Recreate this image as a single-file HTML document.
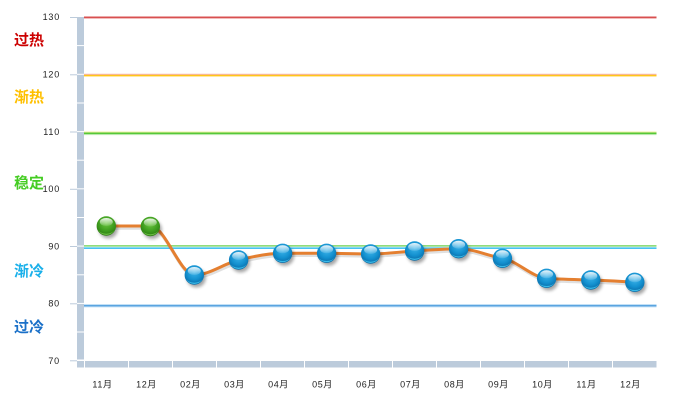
<!DOCTYPE html>
<html><head><meta charset="utf-8"><style>
html,body{margin:0;padding:0;background:#fff;}
svg{display:block;}
.yl{font-family:"Liberation Sans",sans-serif;font-size:9px;fill:#222;text-anchor:end;letter-spacing:0.8px;}
.xl{font-family:"Liberation Sans","Noto Sans CJK SC",sans-serif;font-size:9px;fill:#222;text-anchor:middle;letter-spacing:0.6px;}
.cl{font-family:"Liberation Sans","Noto Sans CJK SC",sans-serif;font-size:15px;font-weight:bold;}
</style></head><body>
<svg width="682" height="409" viewBox="0 0 682 409" xmlns="http://www.w3.org/2000/svg">
<defs>
  <radialGradient id="gb" cx="0.5" cy="0.35" r="0.65">
    <stop offset="0" stop-color="#3cb4ea"/>
    <stop offset="0.6" stop-color="#1390cf"/>
    <stop offset="1" stop-color="#0a6aa5"/>
  </radialGradient>
  <radialGradient id="gg" cx="0.5" cy="0.35" r="0.65">
    <stop offset="0" stop-color="#6cc840"/>
    <stop offset="0.6" stop-color="#3f9e1f"/>
    <stop offset="1" stop-color="#2a7a10"/>
  </radialGradient>
  <linearGradient id="hl" x1="0" y1="0" x2="0" y2="1">
    <stop offset="0" stop-color="#fff" stop-opacity="0.9"/>
    <stop offset="1" stop-color="#fff" stop-opacity="0.1"/>
  </linearGradient>
  <filter id="sh" x="-50%" y="-50%" width="200%" height="200%">
    <feGaussianBlur stdDeviation="1.5"/>
  </filter>
  <g id="mb">
    <circle cx="2" cy="3" r="9.5" fill="#000" opacity="0.35" filter="url(#sh)"/>
    <circle r="9.7" fill="url(#gb)"/>
    <path d="M-8.6,3.5 A9.5,9.5 0 0 0 8.6,3.5 A9,6 0 0 1 -8.6,3.5Z" fill="#4fd8ff" opacity="0.7"/>
    <ellipse cx="0" cy="-4" rx="6.5" ry="4" fill="url(#hl)"/>
  </g>
  <g id="mg">
    <circle cx="2" cy="3" r="9.5" fill="#000" opacity="0.35" filter="url(#sh)"/>
    <circle r="9.7" fill="url(#gg)"/>
    <path d="M-8.6,3.5 A9.5,9.5 0 0 0 8.6,3.5 A9,6 0 0 1 -8.6,3.5Z" fill="#8fe060" opacity="0.6"/>
    <ellipse cx="0" cy="-4" rx="6.5" ry="4" fill="url(#hl)"/>
  </g>
</defs>

<rect x="77" y="17" width="7" height="342.5" fill="#bccbdb"/>
<g stroke="#fff" stroke-width="1">
  <line x1="77" x2="84" y1="45.6" y2="45.6"/>
  <line x1="77" x2="84" y1="74.3" y2="74.3"/>
  <line x1="77" x2="84" y1="103" y2="103"/>
  <line x1="77" x2="84" y1="131.6" y2="131.6"/>
  <line x1="77" x2="84" y1="160.2" y2="160.2"/>
  <line x1="77" x2="84" y1="188.8" y2="188.8"/>
  <line x1="77" x2="84" y1="217.5" y2="217.5"/>
  <line x1="77" x2="84" y1="246.1" y2="246.1"/>
  <line x1="77" x2="84" y1="274.8" y2="274.8"/>
  <line x1="77" x2="84" y1="303.4" y2="303.4"/>
  <line x1="77" x2="84" y1="332" y2="332"/>
</g>
<rect x="77" y="361" width="7" height="6.5" fill="#bccbdb"/>
<g stroke="#bccbdb" stroke-width="1">
  <line x1="70" x2="77" y1="17.5" y2="17.5"/>
  <line x1="70" x2="77" y1="74.8" y2="74.8"/>
  <line x1="70" x2="77" y1="132" y2="132"/>
  <line x1="70" x2="77" y1="189.3" y2="189.3"/>
  <line x1="70" x2="77" y1="246.5" y2="246.5"/>
  <line x1="70" x2="77" y1="303.8" y2="303.8"/>
  <line x1="70" x2="77" y1="360.8" y2="360.8"/>
</g>
<g fill="#bccbdb">
  <rect x="85" y="361" width="43" height="6.5"/>
  <rect x="129" y="361" width="43" height="6.5"/>
  <rect x="173" y="361" width="43" height="6.5"/>
  <rect x="217" y="361" width="43" height="6.5"/>
  <rect x="261" y="361" width="43" height="6.5"/>
  <rect x="305" y="361" width="43" height="6.5"/>
  <rect x="349" y="361" width="43" height="6.5"/>
  <rect x="393" y="361" width="43" height="6.5"/>
  <rect x="437" y="361" width="43" height="6.5"/>
  <rect x="481" y="361" width="43" height="6.5"/>
  <rect x="525" y="361" width="43" height="6.5"/>
  <rect x="569" y="361" width="43" height="6.5"/>
  <rect x="613" y="361" width="43.5" height="6.5"/>
</g>

<text class="yl" x="60" y="20">130</text>
<text class="yl" x="60" y="77.5">120</text>
<text class="yl" x="60" y="135">110</text>
<text class="yl" x="60" y="192">100</text>
<text class="yl" x="60" y="249.3">90</text>
<text class="yl" x="60" y="306.5">80</text>
<text class="yl" x="60" y="364">70</text>

<text class="cl" x="14" y="45" fill="#cc0000">过热</text>
<text class="cl" x="14" y="102" fill="#ffc000">渐热</text>
<text class="cl" x="14" y="188" fill="#44cc22">稳定</text>
<text class="cl" x="14" y="276" fill="#1ab0ea">渐冷</text>
<text class="cl" x="14" y="332" fill="#1a70c8">过冷</text>

<rect x="84" y="16.5" width="572.5" height="1.6" fill="#d85050"/>
<rect x="84" y="18.1" width="572.5" height="0.8" fill="#f0b0b0"/>

<rect x="84" y="73.8" width="572.5" height="1" fill="#f4a8a0"/>
<rect x="84" y="74.8" width="572.5" height="1.6" fill="#ffc61a"/>

<rect x="84" y="131.5" width="572.5" height="1" fill="#f2f0a0"/>
<rect x="84" y="132.5" width="572.5" height="1.6" fill="#55c83a"/>
<rect x="84" y="134.1" width="572.5" height="1" fill="#b6e8a8"/>

<rect x="84" y="245" width="572.5" height="1.8" fill="#90dc7c"/>
<rect x="84" y="246.8" width="572.5" height="0.6" fill="#d8f6f8"/>
<rect x="84" y="247.4" width="572.5" height="1.6" fill="#48c2f2"/>

<rect x="84" y="304.2" width="572.5" height="0.8" fill="#b4d8f4"/>
<rect x="84" y="305" width="572.5" height="1.6" fill="#5aa4e0"/>
<rect x="84" y="306.6" width="572.5" height="0.8" fill="#c4e2f8"/>

<path d="M106.5,226 C121.17,226 135.83,226 150.5,226 C165.17,226 179.83,275 194.5,275 C209.17,275 223.83,263.62 238.5,260 C253.17,256.38 267.83,253.3 282.5,253.3 C297.17,253.3 311.83,253.3 326.5,253.3 C341.17,253.3 355.83,254 370.5,254 C385.17,254 399.83,251.88 414.5,251 C429.17,250.12 443.83,248.7 458.5,248.7 C473.17,248.7 487.83,255.83 502.5,258.3 C517.17,260.77 531.83,277.17 546.5,278.3 C561.17,279.43 575.83,279.67 590.5,280 C605.17,280.33 619.83,281.32 634.5,282.3" fill="none" stroke="#000" stroke-opacity="0.12" stroke-width="3.5" transform="translate(1,2)"/>
<path d="M106.5,226 C121.17,226 135.83,226 150.5,226 C165.17,226 179.83,275 194.5,275 C209.17,275 223.83,263.62 238.5,260 C253.17,256.38 267.83,253.3 282.5,253.3 C297.17,253.3 311.83,253.3 326.5,253.3 C341.17,253.3 355.83,254 370.5,254 C385.17,254 399.83,251.88 414.5,251 C429.17,250.12 443.83,248.7 458.5,248.7 C473.17,248.7 487.83,255.83 502.5,258.3 C517.17,260.77 531.83,277.17 546.5,278.3 C561.17,279.43 575.83,279.67 590.5,280 C605.17,280.33 619.83,281.32 634.5,282.3" fill="none" stroke="#e47f30" stroke-width="3" stroke-linejoin="round" stroke-linecap="round"/>

<use href="#mg" x="106.3" y="226"/>
<use href="#mg" x="150.3" y="226.5"/>
<use href="#mb" x="194.3" y="275"/>
<use href="#mb" x="238.6" y="260"/>
<use href="#mb" x="282.6" y="253.3"/>
<use href="#mb" x="326.6" y="253.3"/>
<use href="#mb" x="370.6" y="254"/>
<use href="#mb" x="414.6" y="251"/>
<use href="#mb" x="458.6" y="248.7"/>
<use href="#mb" x="502.4" y="258.3"/>
<use href="#mb" x="546.6" y="278.3"/>
<use href="#mb" x="590.8" y="280"/>
<use href="#mb" x="634.8" y="282.3"/>

<text class="xl" x="102.5" y="387.3">11月</text>
<text class="xl" x="146.5" y="387.3">12月</text>
<text class="xl" x="190.5" y="387.3">02月</text>
<text class="xl" x="234.5" y="387.3">03月</text>
<text class="xl" x="278.5" y="387.3">04月</text>
<text class="xl" x="322.5" y="387.3">05月</text>
<text class="xl" x="366.5" y="387.3">06月</text>
<text class="xl" x="410.5" y="387.3">07月</text>
<text class="xl" x="454.5" y="387.3">08月</text>
<text class="xl" x="498.5" y="387.3">09月</text>
<text class="xl" x="542.5" y="387.3">10月</text>
<text class="xl" x="586.5" y="387.3">11月</text>
<text class="xl" x="630.5" y="387.3">12月</text>
</svg>
</body></html>
